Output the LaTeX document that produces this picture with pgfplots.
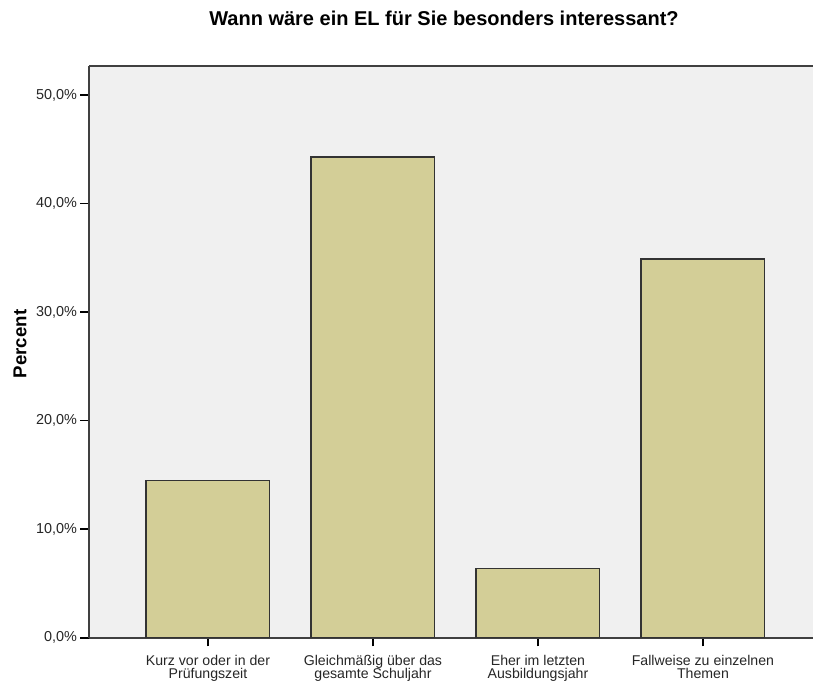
\documentclass[border=0pt]{standalone}
\usepackage{pgfplots}
\pgfplotsset{compat=1.18}
\usepackage{fontspec}
\setmainfont{Liberation Sans}
\definecolor{barfill}{HTML}{D3CE97}
\definecolor{plotbg}{HTML}{F0F0F0}
\definecolor{axisline}{HTML}{404040}
\begin{document}
\begin{tikzpicture}
\path[use as bounding box] (0,0) rectangle (609.75pt,511.5pt);
\begin{axis}[
    at={(66.75pt,33.2pt)}, anchor=south west,
    scale only axis, width=543pt, height=429pt,
    xmin=-0.721, xmax=3.667,
    ymin=0, ymax=52.7,
    axis background/.style={fill=plotbg},
    axis x line*=bottom, axis y line*=left,
    axis line style={-, axisline, line width=1.2pt},
    tick align=outside,
    tick style={black, line width=1.2pt},
    ytick={0,10,20,30,40,50},
    yticklabels={{0,0\%},{10,0\%},{20,0\%},{30,0\%},{40,0\%},{50,0\%}},
    ytick style={/pgfplots/major tick length=6.5pt},
    xtick={0,1,2,3},
    xticklabels={{Kurz vor oder in der\\Prüfungszeit},{Gleichmäßig über das\\gesamte Schuljahr},{Eher im letzten\\Ausbildungsjahr},{Fallweise zu einzelnen\\Themen}},
    xtick style={/pgfplots/major tick length=6.5pt},
    xticklabel style={align=center, font=\fontsize{10.6}{10.2}\selectfont, text=black!85, inner sep=1.5pt, yshift=-7pt},
    yticklabel style={font=\fontsize{10.8}{12}\selectfont, text=black!85, inner sep=1pt, xshift=-3.5pt},
    title={Wann wäre ein EL für Sie besonders interessant?},
    title style={at={(rel axis cs:0.4903,1.069)}, anchor=center, font=\bfseries\fontsize{15}{17}\selectfont},
    ylabel={Percent},
    ylabel style={at={(rel axis cs:-0.0953,0.5135)}, anchor=center, font=\bfseries\fontsize{14}{16}\selectfont},
]
\addplot[ybar, bar width=0.75, fill=barfill, draw=black!80, line width=0.9pt]
    coordinates {(0,14.5) (1,44.3) (2,6.4) (3,34.9)};
\draw[axisline, line width=1.2pt] (rel axis cs:0,1) -- (rel axis cs:1,1);
\end{axis}
\end{tikzpicture}
\end{document}
